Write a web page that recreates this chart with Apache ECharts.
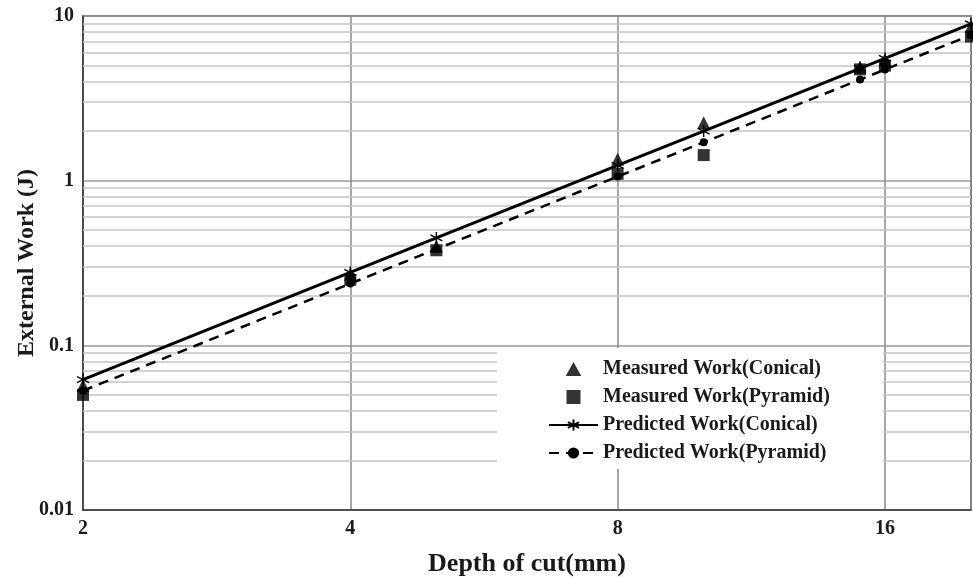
<!DOCTYPE html>
<html>
<head>
<meta charset="utf-8">
<title>External Work vs Depth of cut</title>
<script src="https://cdn.jsdelivr.net/npm/echarts@6/dist/echarts.min.js"></script>
<style>
  html, body { margin: 0; padding: 0; background: #fff; }
  #chart { width: 973px; height: 577px; }
</style>
</head>
<body>
<div id="chart"></div>
<script>
// Depth of cut (mm) for each test
const depths = [2, 4, 5, 8, 10, 15, 16, 20];

// External work (J)
const measuredConical = [0.057, 0.27, 0.40, 1.35, 2.25, 4.9, 5.4, 8.6];
const measuredPyramid = [0.050, 0.25, 0.378, 1.1, 1.43, 4.74, 5.0, 7.5];
const predictedConical = [0.062, 0.277, 0.449, 1.24, 2.0, 4.81, 5.53, 8.96];
const predictedPyramid = [0.053, 0.237, 0.384, 1.06, 1.71, 4.11, 4.73, 7.66];

// Axis ticks
const xTicks = [2, 4, 8, 16];
const yTicks = [0.01, 0.1, 1, 10];

// Minor horizontal grid values (2..9 within each decade)
const minorGridValues = [
  0.02, 0.03, 0.04, 0.05, 0.06, 0.07, 0.08, 0.09,
  0.2, 0.3, 0.4, 0.5, 0.6, 0.7, 0.8, 0.9,
  2, 3, 4, 5, 6, 7, 8, 9
];

const seriesNames = [
  'Measured Work(Conical)',
  'Measured Work(Pyramid)',
  'Predicted Work(Conical)',
  'Predicted Work(Pyramid)'
];

const FONT = '"Liberation Serif", "Times New Roman", serif';
const pairs = (ys) => depths.map((d, i) => [d, ys[i]]);

const asterisk = 'path://M10,0L10,20M1.34,5L18.66,15M1.34,15L18.66,5';
// square-aspect legend icons so they are not stretched to the item width
const triangleIcon = 'path://M10,0L20,18L0,18Z';
const squareIcon = 'path://M0,0L16,0L16,16L0,16Z';

const chart = echarts.init(document.getElementById('chart'), null, { renderer: 'canvas' });

chart.setOption({
  animation: false,
  backgroundColor: '#fff',
  grid: {
    left: 83, right: 2, top: 16, bottom: 67,
    outerBoundsMode: 'none',
    containLabel: false,
    show: true,
    borderColor: '#4a4a4a',
    borderWidth: 1.5,
    backgroundColor: 'transparent'
  },
  legend: {
    orient: 'vertical',
    left: 497,
    top: 348,
    z: 10,
    padding: [11, 53, 6, 51],
    itemGap: 8,
    itemWidth: 49,
    itemHeight: 14,
    symbolKeepAspect: true,
    backgroundColor: '#fff',
    data: [
      { name: seriesNames[0], icon: triangleIcon, itemStyle: { color: '#000' } },
      { name: seriesNames[1], icon: squareIcon, itemStyle: { color: '#000' } },
      { name: seriesNames[2] },
      { name: seriesNames[3] }
    ],
    textStyle: {
      fontFamily: FONT,
      fontWeight: 'bold',
      fontSize: 20,
      color: '#1a1a1a'
    }
  },
  xAxis: {
    type: 'log',
    logBase: 2,
    min: 2,
    max: 20,
    name: 'Depth of cut(mm)',
    nameLocation: 'middle',
    nameGap: 41,
    nameTextStyle: {
      fontFamily: FONT, fontWeight: 'bold', fontSize: 26, color: '#1a1a1a'
    },
    axisLine: { show: true, lineStyle: { color: '#3a3a3a', width: 1.5 } },
    axisTick: { show: false },
    axisLabel: {
      margin: 9,
      fontFamily: FONT, fontWeight: 'bold', fontSize: 20, color: '#1a1a1a',
      showMaxLabel: false,
      formatter: (v) => (xTicks.some(t => Math.abs(t - v) < 1e-6) ? String(Math.round(v)) : '')
    },
    splitLine: { show: true, lineStyle: { color: '#8a8a8a', width: 1.5 } }
  },
  yAxis: {
    type: 'log',
    logBase: 10,
    min: 0.01,
    max: 10,
    name: 'External Work (J)',
    nameLocation: 'middle',
    nameMoveOverlap: false,
    nameGap: 44,
    nameTextStyle: {
      fontFamily: FONT, fontWeight: 'bold', fontSize: 24, color: '#1a1a1a'
    },
    axisLine: { show: true, lineStyle: { color: '#3a3a3a', width: 1.5 } },
    axisTick: { show: false },
    axisLabel: {
      margin: 9,
      fontFamily: FONT, fontWeight: 'bold', fontSize: 20, color: '#1a1a1a',
      formatter: (v) => {
        const t = yTicks.find(t => Math.abs(Math.log10(t) - Math.log10(v)) < 1e-6);
        return t === undefined ? '' : String(t);
      }
    },
    splitLine: { show: true, lineStyle: { color: '#9a9a9a', width: 1.5 } }
  },
  series: [
    {
      // minor horizontal grid lines
      type: 'line',
      data: [],
      silent: true,
      z: 1,
      markLine: {
        silent: true,
        z: 1,
        symbol: 'none',
        animation: false,
        label: { show: false },
        lineStyle: { color: '#c4c4c4', width: 1.5, type: 'solid' },
        emphasis: { disabled: true },
        data: minorGridValues.map(v => ({ yAxis: v }))
      }
    },
    {
      name: seriesNames[2],
      type: 'line',
      data: pairs(predictedConical),
      z: 3,
      symbol: asterisk,
      symbolSize: 12,
      lineStyle: { color: '#000', width: 3, type: 'solid' },
      itemStyle: { color: '#000', borderColor: '#000', borderWidth: 1.4 }
    },
    {
      name: seriesNames[3],
      type: 'line',
      data: pairs(predictedPyramid),
      z: 3,
      symbol: 'circle',
      symbolSize: 8,
      lineStyle: { color: '#000', width: 2.5, type: [10, 7] },
      itemStyle: { color: '#000' }
    },
    {
      name: seriesNames[0],
      type: 'scatter',
      data: pairs(measuredConical),
      z: 4,
      symbol: 'triangle',
      symbolSize: 13,
      itemStyle: { color: '#000' }
    },
    {
      name: seriesNames[1],
      type: 'scatter',
      data: pairs(measuredPyramid),
      z: 4,
      symbol: 'rect',
      symbolSize: 12,
      itemStyle: { color: '#000' }
    }
  ]
});
</script>
</body>
</html>
